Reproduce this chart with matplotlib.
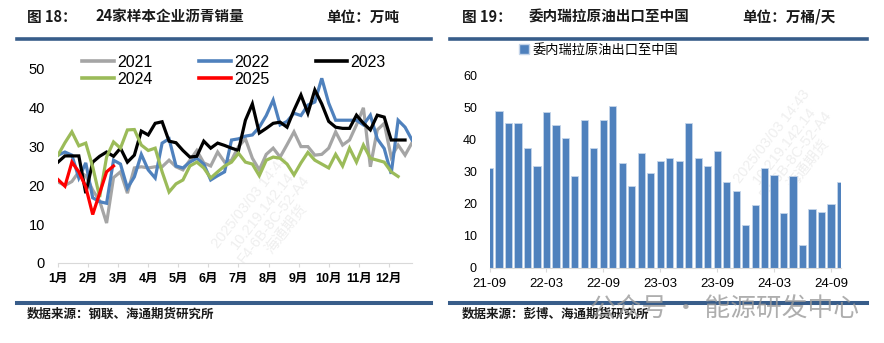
import matplotlib
matplotlib.use("Agg")
import matplotlib.pyplot as plt
import pandas as pd
from matplotlib.lines import Line2D
from matplotlib.patches import Patch

plt.rcParams['font.family'] = ['Liberation Sans', 'Noto Sans CJK SC', 'DejaVu Sans']
CJK = ['Noto Sans CJK SC', 'DejaVu Sans']
MIX = ['Liberation Sans', 'Noto Sans CJK SC']

# ---------------- data: weekly asphalt sales of 24 sample firms (10k t) ----------------
month_labels = ['1月', '2月', '3月', '4月', '5月', '6月', '7月', '8月', '9月', '10月', '11月', '12月']

s2021 = [20.9, 20.0, 21.0, 23.5, 22.5, 18.8, 16.0, 10.3, 22.0, 23.5, 18.0, 24.5, 24.8,
         24.5, 24.8, 24.8, 26.5, 24.8, 24.0, 26.5, 29.0, 25.8, 25.0, 28.6, 26.0, 26.5,
         30.0, 32.0, 27.0, 24.0, 28.0, 29.6, 27.3, 30.5, 33.8, 30.0, 30.0, 27.8, 28.0,
         29.6, 33.8, 30.4, 31.7, 35.6, 40.0, 24.8, 34.3, 36.0, 27.3, 30.4, 27.8, 31.0]
s2022 = [27.8, 28.6, 27.8, 21.9, 25.8, 16.8, 15.8, 15.4, 26.5, 25.5, 19.3, 22.2, 28.0,
         24.0, 21.9, 30.9, 32.0, 25.0, 24.5, 26.0, 27.0, 25.5, 21.4, 22.5, 23.5, 31.7,
         32.0, 32.7, 33.0, 35.0, 38.0, 42.0, 35.6, 36.5, 38.6, 38.0, 40.7, 41.5, 47.6,
         41.2, 36.8, 36.8, 36.8, 36.8, 35.6, 38.1, 32.0, 29.5, 23.0, 36.8, 35.0, 31.7]
s2023 = [26.0, 27.6, 27.6, 27.6, 18.0, 26.0, 27.5, 28.6, 27.5, 29.6, 26.0, 27.8, 34.0,
         33.0, 36.0, 36.4, 31.4, 31.0, 29.0, 27.3, 27.5, 31.4, 29.6, 30.9, 30.3, 29.6,
         29.0, 36.8, 41.0, 33.5, 34.7, 36.0, 36.3, 35.0, 39.4, 43.3, 38.6, 44.6, 41.0,
         36.5, 35.0, 34.7, 34.7, 38.1, 36.0, 34.3, 38.1, 37.6, 31.7, 31.7, 31.7]
s2024 = [27.8, 31.0, 33.8, 30.2, 30.9, 24.8, 17.0, 27.3, 31.2, 29.6, 34.3, 34.4, 30.4,
         29.0, 29.6, 23.5, 18.3, 20.4, 21.4, 25.0, 26.0, 24.5, 21.9, 23.5, 25.0, 26.0,
         28.3, 26.0, 25.5, 22.5, 26.5, 27.3, 27.0, 25.5, 22.7, 25.8, 28.5, 26.5, 25.5,
         24.5, 28.0, 25.0, 29.6, 26.0, 30.4, 27.0, 26.5, 26.0, 23.5, 22.3]
s2025 = [21.5, 19.8, 26.0, 23.5, 19.6, 12.5, 18.0, 23.5, 25.0]

sales_series = [('2021', s2021, '#A5A5A5'),
                ('2022', s2022, '#4F81BD'),
                ('2023', s2023, '#000000'),
                ('2024', s2024, '#9BBB59'),
                ('2025', s2025, '#FF0000')]

# ---------------- data: Venezuelan crude exports to China (10k bbl/day) ----------------
export_months = list(pd.period_range('2021-09', '2024-10', freq='M').strftime('%y-%m'))
export_values = [31.1, 48.9, 45.2, 45.0, 37.2, 31.7, 48.5, 44.5, 40.3, 28.6, 45.9, 37.2,
                 45.9, 50.5, 32.7, 25.5, 35.8, 29.4, 33.2, 34.1, 33.2, 45.1, 34.1, 31.7,
                 36.4, 26.8, 24.0, 13.4, 19.5, 31.1, 28.8, 17.0, 28.5, 7.0, 18.2, 17.4,
                 19.8, 26.7]
export_name = '委内瑞拉原油出口至中国'

W, H = 884, 343
fig = plt.figure(figsize=(W / 100, H / 100), dpi=100)
fig.patch.set_facecolor('white')


def fx(x):
    return x / W


def fy(y):
    return 1 - y / H


GRID = '#D9D9D9'
NAVY = '#385D8A'

# ---------------- left panel: line chart ----------------
ax1 = fig.add_axes([fx(58), fy(263), fx(412) - fx(58), fy(49.6) - fy(263)])
for name, vals, col in sales_series:
    ax1.plot(range(len(vals)), vals, color=col, lw=2.3, label=name,
             solid_joinstyle='miter', zorder=2)
ax1.set_xlim(0, 51)
ax1.set_ylim(0, 55)
ax1.set_yticks(range(0, 51, 10))
ax1.set_xticks([i * 52 / 12 for i in range(12)])
ax1.set_xticklabels(month_labels, fontsize=9, fontweight='bold', family=MIX)
for s in ('left', 'right', 'top'):
    ax1.spines[s].set_visible(False)
ax1.spines['bottom'].set_color(GRID)
ax1.tick_params(axis='y', length=0, pad=9.5, labelsize=10.5)
ax1.tick_params(axis='x', length=3, color=GRID, pad=4)

handles = {name: Line2D([], [], color=col, lw=2.6) for name, _, col in sales_series}
order = ['2021', '2024', '2022', '2025', '2023']
ax1.legend([handles[k] for k in order], order, ncol=3, loc='upper left',
           bbox_to_anchor=(fx(82), fy(55)), bbox_transform=fig.transFigure,
           frameon=False, fontsize=11.5, handlelength=2.0, handletextpad=0.2,
           columnspacing=2.9, labelspacing=0.12, borderpad=0, borderaxespad=0)

# ---------------- right panel: bar chart ----------------
ax2 = fig.add_axes([fx(489.5), fy(268), fx(840.5) - fx(489.5), fy(75) - fy(268)])
ax2.bar(range(len(export_values)), export_values, width=0.76, color='#4F81BD',
        edgecolor='#C5D5EA', linewidth=0.6, zorder=2)
ax2.set_xlim(0, len(export_values) - 1)
ax2.set_ylim(0, 60)
ax2.set_yticks(range(0, 61, 10))
tick_idx = list(range(0, len(export_months), 6))
ax2.set_xticks(tick_idx)
ax2.set_xticklabels([export_months[i] for i in tick_idx], fontsize=9.5)
for s in ('left', 'right', 'top'):
    ax2.spines[s].set_visible(False)
ax2.spines['bottom'].set_color(GRID)
ax2.tick_params(axis='y', length=0, pad=9, labelsize=9)
ax2.tick_params(axis='x', length=3, color=GRID, pad=4)
ax2.legend([Patch(facecolor='#4F81BD', edgecolor='#C5D5EA')], [export_name],
           loc='center left', bbox_to_anchor=(fx(519), fy(50)),
           bbox_transform=fig.transFigure, frameon=False,
           prop={'family': CJK, 'size': 9.5}, handlelength=0.75, handleheight=0.75,
           handletextpad=0.3, borderpad=0, borderaxespad=0)

# faint stamp text behind the plots
stamp = '2025/03/03 14:43\n10.219.142.14\nF4-6B-8C-52-A4\n海通期货'
ax1.text(fx(268), fy(215), stamp, transform=fig.transFigure, rotation=52,
         ha='center', va='center', fontsize=10.5, color='#EFEFEF', family=MIX,
         zorder=0.5, linespacing=1.1)
ax2.text(fx(790), fy(150), stamp, transform=fig.transFigure, rotation=52,
         ha='center', va='center', fontsize=10.5, color='#EFEFEF', family=MIX,
         zorder=0.5, linespacing=1.1)

# ---------------- headers, rules and sources ----------------
title_kw = dict(fontsize=10.5, fontweight='bold', va='center', family=CJK, color='#1A1A1A')
fig.text(fx(27), fy(17), '图 18：', **title_kw)
fig.text(fx(95), fy(17), '24家样本企业沥青销量', **title_kw)
fig.text(fx(326), fy(17), '单位：万吨', **title_kw)
fig.text(fx(462), fy(17), '图 19：', **title_kw)
fig.text(fx(529), fy(17), '委内瑞拉原油出口至中国', **title_kw)
fig.text(fx(742), fy(17), '单位：万桶/天', **title_kw)

for x0, x1 in ((17, 431), (450, 867)):
    fig.add_artist(Line2D([fx(x0), fx(x1)], [fy(38.5)] * 2, color=NAVY, lw=2.6))
    fig.add_artist(Line2D([fx(x0), fx(x1)], [fy(303)] * 2, color=NAVY, lw=2.9))

src_kw = dict(fontsize=9, fontweight='bold', va='center', family=CJK, color='#1A1A1A')
fig.text(fx(27), fy(314), '数据来源：钢联、海通期货研究所', **src_kw)
fig.text(fx(462), fy(314), '数据来源：彭博、海通期货研究所', **src_kw)

# account badge laid over the right footer
fig.text(fx(590), fy(310), '公众号 · 能源研发中心', fontsize=18.5, color='#9A9A9A',
         alpha=0.8, va='center', family=CJK)

fig.savefig('out.png', dpi=100, facecolor='white')
